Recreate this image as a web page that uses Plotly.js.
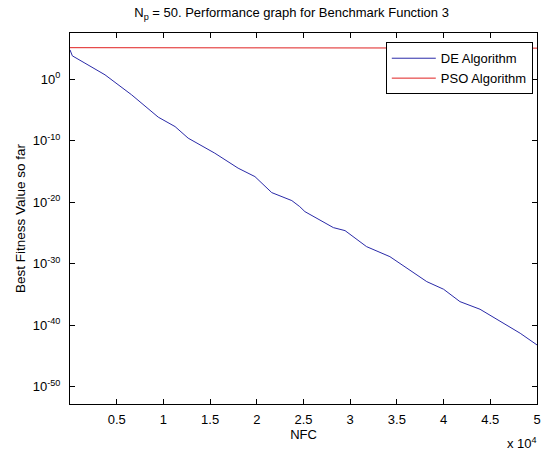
<!DOCTYPE html>
<html>
<head>
<meta charset="utf-8">
<script src="https://cdn.plot.ly/plotly-3.0.1.min.js"></script>
<style>html,body{margin:0;padding:0;background:#fff;}#chart{width:542px;height:450px;}</style>
</head>
<body>
<div id="chart"></div>
<script>
// DE Algorithm: NFC vs best fitness value
const deNFC = [0, 250, 1600, 3750, 6600, 9450, 11250, 12650, 15500, 18000, 19800, 21600, 23750, 24600, 25150, 26750, 28200, 29450, 31750, 34250, 36050, 38200, 40000, 41750, 43900, 46050, 48200, 50000];
const deLog = [4.76, 3.79, 2.60, 0.70, -2.55, -6.18, -7.71, -9.59, -12.03, -14.47, -15.84, -18.44, -19.74, -20.72, -21.53, -22.88, -24.13, -24.62, -27.22, -28.85, -30.73, -32.91, -34.15, -36.16, -37.40, -39.41, -41.30, -43.2];
const deValues = deLog.map(v => Math.pow(10, v));

// PSO Algorithm
const psoNFC = [0, 25500, 25500, 50000];
const psoValues = [1.3e5, 1.3e5, 1.1e5, 1.1e5];

// Tick labels
const xTickVals = [5000, 10000, 15000, 20000, 25000, 30000, 35000, 40000, 45000, 50000];
const xTickText = ['0.5', '1', '1.5', '2', '2.5', '3', '3.5', '4', '4.5', '5'];
const yTickVals = [1, 1e-10, 1e-20, 1e-30, 1e-40, 1e-50];
const yTickText = ['10<sup>0</sup>', '10<sup>-10</sup>', '10<sup>-20</sup>', '10<sup>-30</sup>', '10<sup>-40</sup>', '10<sup>-50</sup>'];

const font = {family: 'Liberation Sans, Arial, sans-serif', size: 13, color: '#000'};

const traces = [
  {x: deNFC, y: deValues, mode: 'lines', name: 'DE Algorithm', line: {color: '#2a2aa8', width: 1}},
  {x: psoNFC, y: psoValues, mode: 'lines', name: 'PSO Algorithm', line: {color: '#e02020', width: 1}}
];

const layout = {
  width: 542, height: 450,
  margin: {l: 70, r: 5, t: 33, b: 46},
  paper_bgcolor: '#fff', plot_bgcolor: '#fff',
  font: font,
  title: {text: 'N<sub>p</sub> = 50. Performance graph for Benchmark Function 3', font: font, x: 0.538, xanchor: 'center', y: 0.972, yanchor: 'middle'},
  xaxis: {
    range: [0, 50000], tickvals: xTickVals, ticktext: xTickText,
    ticks: 'inside', ticklen: 5, tickcolor: '#000', mirror: 'ticks', ticklabelstandoff: 3,
    showline: true, linecolor: '#000', linewidth: 1, showgrid: false, zeroline: false,
    title: {text: 'NFC', font: font, standoff: 0}
  },
  yaxis: {
    type: 'log', range: [-52.8, 7.5], tickvals: yTickVals, ticktext: yTickText,
    ticks: 'inside', ticklen: 5, tickcolor: '#000', mirror: 'ticks', ticklabelstandoff: 6,
    showline: true, linecolor: '#000', linewidth: 1, showgrid: false, zeroline: false,
    title: {text: 'Best Fitness Value so far', font: {family: font.family, size: 13.5, color: '#000'}, standoff: 4}
  },
  legend: {
    x: 0.991, y: 0.975, xanchor: 'right', yanchor: 'top',
    bgcolor: '#fff', bordercolor: '#000', borderwidth: 1,
    font: font, tracegroupgap: 0, itemwidth: 44
  },
  showlegend: true,
  annotations: [{
    text: 'x 10<sup>4</sup>', xref: 'paper', yref: 'paper', x: 1.005, y: -0.105,
    xanchor: 'right', yanchor: 'middle', showarrow: false, font: font
  }]
};

Plotly.newPlot('chart', traces, layout, {displayModeBar: false, staticPlot: true});
</script>
</body>
</html>
